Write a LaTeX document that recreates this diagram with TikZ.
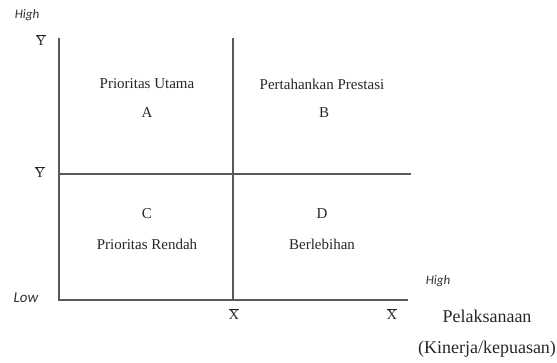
\documentclass[tikz,border=0pt]{standalone}
\usepackage{fontspec}
\setmainfont{Liberation Serif}
\newfontfamily\lblfont{Carlito}
\newcommand\ovlsym[1]{$\overline{\hbox{#1}}$}
\begin{document}
\begin{tikzpicture}[x=1pt,y=-1pt,
  axis/.style={draw=black!65,line width=1.8pt},
  quad/.style={font=\fontsize{15}{17}\selectfont,text=black!85},
  hl/.style={font=\lblfont\itshape\fontsize{13}{15}\selectfont,text=black!80},
  sym/.style={font=\fontsize{14}{16}\selectfont,text=black!85,inner sep=1pt},
  big/.style={font=\fontsize{18}{20}\selectfont,text=black!85}]
\useasboundingbox (0,0) rectangle (557,362);
\coordinate (ytop) at (59,38);
\coordinate (orig) at (59,300);
\coordinate (xend) at (408,300);
\coordinate (mleft) at (59,174);
\coordinate (mright) at (411,174);
\coordinate (vtop) at (233,38);
\coordinate (vbot) at (233,300);
\draw[axis] (ytop) -- (orig) -- (xend);
\draw[axis] (mleft) -- (mright);
\draw[axis] (vtop) -- (vbot);
\node[hl] (high1) at (27,15) {High};
\node[hl,font=\lblfont\itshape\fontsize{15}{17}\selectfont] (low) at (26,298) {Low};
\node[hl] (high2) at (438,281) {High};
\node[sym] (ybar) at (41,40) {\ovlsym{Y}};
\node[sym] (ybb) at (40,172) {\ovlsym{Y}};
\node[sym] (xbb) at (234,314) {\ovlsym{X}};
\node[sym] (xbar) at (392,314) {\ovlsym{X}};
\node[big] (pel) at (487,316) {Pelaksanaan};
\node[big] (kin) at (487,349) {(Kinerja/kepuasan)};
\node[quad] (pu) at (147,84) {Prioritas Utama};
\node[quad] (a) at (147,113) {A};
\node[quad] (pp) at (322,84) {Pertahankan Prestasi};
\node[quad] (b) at (324,113) {B};
\node[quad] (c) at (147,214) {C};
\node[quad] (pr) at (147,244) {Prioritas Rendah};
\node[quad] (d) at (322,214) {D};
\node[quad] (bl) at (322,244) {Berlebihan};
\end{tikzpicture}
\end{document}
